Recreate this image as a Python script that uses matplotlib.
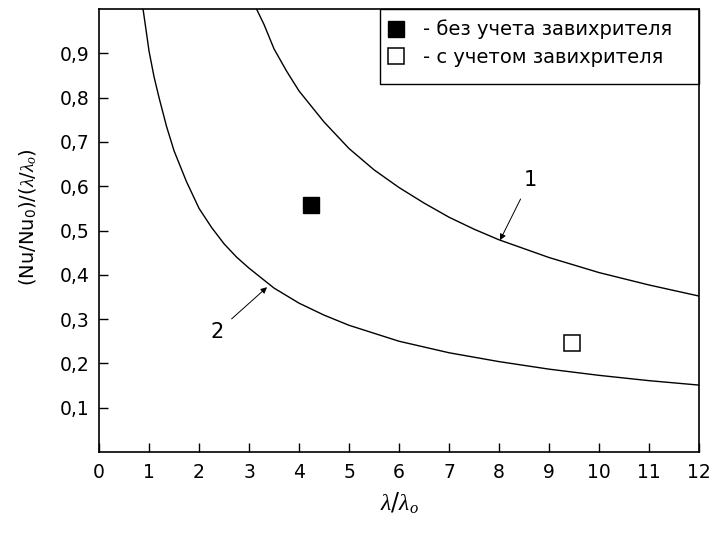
import matplotlib.pyplot as plt
from matplotlib.patches import Rectangle

plt.rcParams['font.family'] = ['DejaVu Sans']
plt.rcParams['mathtext.fontset'] = 'custom'
plt.rcParams['mathtext.rm'] = 'DejaVu Sans'
plt.rcParams['mathtext.it'] = 'Liberation Serif:italic'

# curve 1
x1 = [3.15, 3.3, 3.5, 3.75, 4.0, 4.5, 5.0, 5.5, 6.0, 6.5, 7.0, 7.5, 8.0, 9.0, 10.0, 11.0, 12.0]
y1 = [1.0, 0.965, 0.91, 0.86, 0.815, 0.745, 0.685, 0.637, 0.597, 0.562, 0.530, 0.503, 0.479,
      0.439, 0.405, 0.377, 0.352]

# curve 2
x2 = [0.88, 0.95, 1.0, 1.1, 1.2, 1.35, 1.5, 1.75, 2.0, 2.25, 2.5, 2.75, 3.0, 3.5, 4.0, 4.5,
      5.0, 6.0, 7.0, 8.0, 9.0, 10.0, 11.0, 12.0]
y2 = [1.0, 0.945, 0.905, 0.847, 0.80, 0.735, 0.68, 0.61, 0.55, 0.507, 0.47, 0.44, 0.415, 0.37,
      0.336, 0.309, 0.286, 0.25, 0.224, 0.204, 0.187, 0.173, 0.161, 0.151]

# experimental points
pt_filled = (4.24, 0.558)
pt_open = (9.45, 0.246)
labels = ['- без учета завихрителя', '- с учетом завихрителя']

xticks = list(range(0, 13))
yticks = [0.1, 0.2, 0.3, 0.4, 0.5, 0.6, 0.7, 0.8, 0.9]
ytick_labels = ['0,1', '0,2', '0,3', '0,4', '0,5', '0,6', '0,7', '0,8', '0,9']

fig = plt.figure(figsize=(7.13, 5.34), dpi=100)
ax = fig.add_axes([0.1389, 0.1536, 0.8415, 0.8295])

ax.plot(x1, y1, color='black', lw=1.0)
ax.plot(x2, y2, color='black', lw=1.0)

h1, = ax.plot(*pt_filled, 's', ms=11.5, mfc='black', mec='black', label=labels[0])
h2, = ax.plot(*pt_open, 's', ms=11, mfc='white', mec='black', mew=1.1, label=labels[1])

# curve numbers with arrows
arrow = dict(arrowstyle='-|>', color='black', lw=0.7, mutation_scale=9, shrinkA=5, shrinkB=0)
ax.annotate('1', xy=(8.02, 0.478), xytext=(8.62, 0.614), fontsize=15, ha='center', va='center',
            arrowprops=arrow)
ax.annotate('2', xy=(3.36, 0.372), xytext=(2.36, 0.271), fontsize=15, ha='center', va='center',
            arrowprops=arrow)

ax.set_xlim(0, 12)
ax.set_ylim(0, 1.0)
ax.set_xticks(xticks)
ax.set_yticks(yticks)
ax.set_yticklabels(ytick_labels)
ax.tick_params(direction='in', length=6.5, width=1.0, labelsize=13.5)
ax.tick_params(axis='x', pad=8)
ax.tick_params(axis='y', pad=7)
for s in ax.spines.values():
    s.set_linewidth(1.2)

ax.set_xlabel(r'$\lambda/\lambda_o$', fontsize=17, labelpad=6)
ax.set_ylabel(r'(Nu/Nu$_0$)/($\lambda/\lambda_o$)', fontsize=14)
ax.yaxis.set_label_coords(-0.1, 0.53)

leg = ax.legend(handles=[h1, h2], loc='upper left', bbox_to_anchor=(0.468, 1.0), borderaxespad=0,
                fontsize=14, handlelength=0.55, handletextpad=1.1, borderpad=0.55,
                labelspacing=0.43, frameon=False)
ax.add_patch(Rectangle((0.468, 0.83), 0.532, 0.17, transform=ax.transAxes, fill=False,
                       edgecolor='black', lw=1.0, clip_on=False))

fig.savefig('out.png', dpi=100)
